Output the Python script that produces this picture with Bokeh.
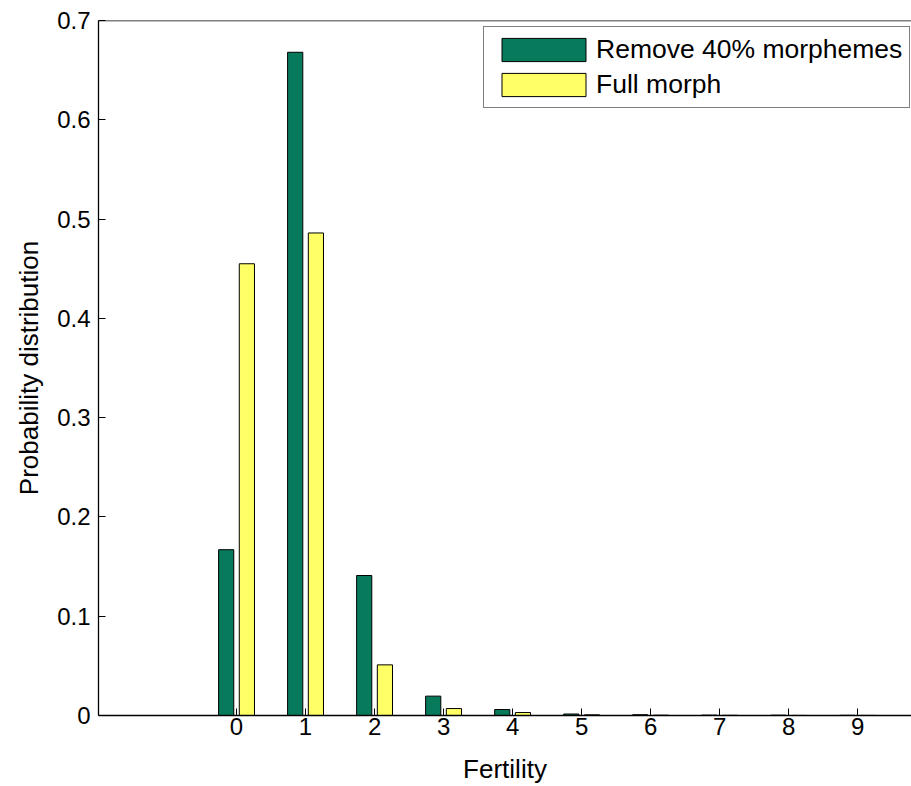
from bokeh.plotting import figure
from bokeh.models import ColumnDataSource, Legend, LegendItem, FixedTicker, Span, Range1d
from bokeh.transform import dodge
from bokeh.embed import file_html
from bokeh.resources import INLINE

# ---- data ----
fertility = [0, 1, 2, 3, 4, 5, 6, 7, 8, 9]
remove40 = [0.167, 0.668, 0.141, 0.0195, 0.006, 0.0015, 0.0008, 0.0004, 0.0003, 0.0002]
full_morph = [0.455, 0.486, 0.051, 0.007, 0.003, 0.0007, 0.0003, 0.0002, 0.0001, 0.0001]
series_names = ["Remove 40% morphemes", "Full morph"]
x_ticks = [0, 1, 2, 3, 4, 5, 6, 7, 8, 9]
x_tick_labels = ["0", "1", "2", "3", "4", "5", "6", "7", "8", "9"]
y_ticks = [0, 0.1, 0.2, 0.3, 0.4, 0.5, 0.6, 0.7]
y_tick_labels = ["0", "0.1", "0.2", "0.3", "0.4", "0.5", "0.6", "0.7"]
x_label = "Fertility"
y_label = "Probability distribution"

GREEN = "#087a5c"
YELLOW = "#ffff66"
FONT = "Liberation Sans"

src = ColumnDataSource(dict(x=fertility, a=remove40, b=full_morph))

p = figure(width=911, height=786, output_backend="svg", toolbar_location=None,
           x_range=Range1d(-2.0, 9.78), y_range=Range1d(0, 0.7),
           min_border_left=98, min_border_right=0, min_border_top=20, min_border_bottom=70)

r1 = p.vbar(x=dodge("x", -0.15, range=p.x_range), top="a", width=0.22, source=src,
            fill_color=GREEN, line_color="black", line_width=1)
r2 = p.vbar(x=dodge("x", 0.15, range=p.x_range), top="b", width=0.22, source=src,
            fill_color=YELLOW, line_color="black", line_width=1)

p.grid.visible = False
p.outline_line_color = None
p.background_fill_color = "white"
p.border_fill_color = "white"

p.add_layout(Span(location=0.7, dimension="width", line_color="black", line_width=1.5))

for ax in (p.xaxis[0], p.yaxis[0]):
    ax.axis_line_color = "black"
    ax.axis_line_width = 1.3
    ax.major_tick_in = 7
    ax.major_tick_out = 0
    ax.minor_tick_line_color = None
    ax.major_tick_line_color = "black"
    ax.major_label_text_font = FONT
    ax.major_label_text_font_size = "24px"
    ax.major_label_text_color = "black"
    ax.axis_label_text_font = FONT
    ax.axis_label_text_font_size = "26px"
    ax.axis_label_text_font_style = "normal"
    ax.axis_label_text_color = "black"

p.xaxis.ticker = FixedTicker(ticks=x_ticks)
p.xaxis.major_label_overrides = {t: l for t, l in zip(x_ticks, x_tick_labels)}
p.yaxis.ticker = FixedTicker(ticks=y_ticks)
p.yaxis.major_label_overrides = {t: l for t, l in zip(y_ticks, y_tick_labels)}
p.xaxis.axis_label = x_label
p.yaxis.axis_label = y_label
p.xaxis.major_label_standoff = 2
p.xaxis.axis_label_standoff = 16
p.yaxis.major_label_standoff = 8
p.yaxis.axis_label_standoff = 10

legend = Legend(items=[LegendItem(label=series_names[0], renderers=[r1]),
                       LegendItem(label=series_names[1], renderers=[r2])],
                location=(385, 607))
legend.label_text_font = FONT
legend.label_text_font_size = "26.5px"
legend.label_text_color = "black"
legend.glyph_width = 105
legend.glyph_height = 29
legend.label_height = 29
legend.label_standoff = 0
legend.spacing = 4
legend.padding = 7
legend.margin = 0
legend.border_line_color = "black"
legend.border_line_width = 1.3
legend.background_fill_alpha = 1
p.add_layout(legend)

open("out.html", "w").write(file_html(p, INLINE))
